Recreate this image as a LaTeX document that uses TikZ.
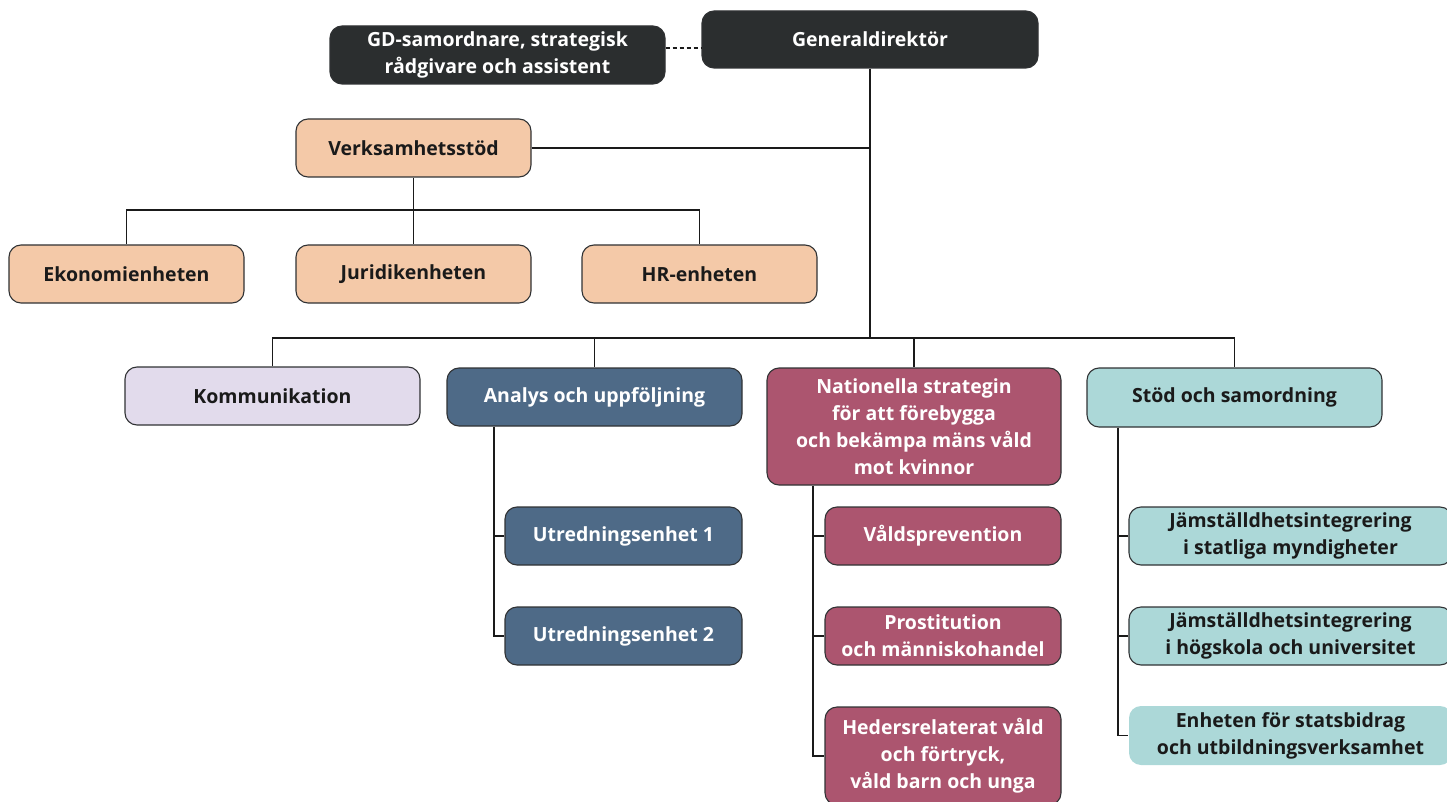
\documentclass[tikz,border=0pt]{standalone}
\usepackage{fontspec}
\setmainfont{Open Sans}[Ligatures=NoCommon]
\definecolor{dk}{HTML}{2B2E2F}
\definecolor{peach}{HTML}{F4C9A8}
\definecolor{lav}{HTML}{E2DBEC}
\definecolor{slate}{HTML}{4E6A87}
\definecolor{rose}{HTML}{AC556F}
\definecolor{teal}{HTML}{ACD8D8}
\definecolor{ink}{HTML}{1A1A1A}
\definecolor{edge}{HTML}{303234}
\newcommand\bx[7]{\node[#6, minimum width={#4-#2}, minimum height={#5-#3}] (#1) at ({(#2+#4)/2},{(#3+#5)/2}) {#7};}
\begin{document}
\begin{tikzpicture}[x=1pt,y=-1pt,
  box/.style={draw=edge, line width=1.1pt, rounded corners=12pt, inner sep=0pt, align=center,
    font=\fontsize{19.5}{27}\selectfont\bfseries},
  darkbox/.style={box, fill=dk, text=white},
  peachbox/.style={box, fill=peach, text=ink},
  lavbox/.style={box, fill=lav, text=ink},
  slatebox/.style={box, fill=slate, text=white},
  rosebox/.style={box, fill=rose, text=white},
  tealbox/.style={box, fill=teal, text=ink},
  tealplain/.style={tealbox, draw=none},
  conn/.style={draw=ink, line width=1.3pt}]
\useasboundingbox (0,0) rectangle (1447,802);
\begin{scope}
\clip (0,0) rectangle (1447,802);
\bx{gds}{330}{26}{665}{84}{darkbox}{GD-samordnare, strategisk\\rådgivare och assistent}
\bx{gd}{702}{11}{1038}{68}{darkbox}{Generaldirektör}
\bx{vs}{296}{119}{531}{177}{peachbox}{Verksamhetsstöd}
\bx{eko}{9}{245}{244}{303}{peachbox}{Ekonomienheten}
\bx{jur}{296}{245}{531}{303}{peachbox}{Juridikenheten}
\bx{hr}{582}{245}{817}{303}{peachbox}{HR-enheten}
\bx{komm}{125}{367}{420}{425}{lavbox}{Kommunikation}
\bx{ana}{447}{368}{742}{426}{slatebox}{Analys och uppföljning}
\bx{nat}{767}{368}{1061}{485}{rosebox}{Nationella strategin\\för att förebygga\\och bekämpa mäns våld\\mot kvinnor}
\bx{stod}{1087}{368}{1382}{427}{tealbox}{Stöd och samordning}
\bx{u1}{505}{507}{742}{565}{slatebox}{Utredningsenhet 1}
\bx{u2}{505}{607}{742}{665}{slatebox}{Utredningsenhet 2}
\bx{vp}{825}{507}{1061}{565}{rosebox}{Våldsprevention}
\bx{pr}{825}{607}{1061}{665}{rosebox}{Prostitution\\och människohandel}
\bx{hed}{825}{707}{1061}{805}{rosebox}{Hedersrelaterat våld\\och förtryck,\\våld barn och unga}
\bx{j1}{1129}{507}{1452}{565}{tealbox}{Jämställdhetsintegrering\\i statliga myndigheter}
\bx{j2}{1129}{607}{1452}{665}{tealbox}{Jämställdhetsintegrering\\i högskola och universitet}
\bx{enh}{1129}{706}{1452}{765}{tealplain}{Enheten för statsbidrag\\och utbildningsverksamhet}
\end{scope}
\coordinate (c48) at (0,48);
\coordinate (hub) at (870,338);
\coordinate (vsbar) at (0,210);
\coordinate (xa) at (494,0);
\coordinate (xn) at (813,0);
\coordinate (xs) at (1118,0);
% top
\draw[conn, dashed, dash pattern=on 4pt off 3pt, line width=1.1pt] (gds.east |- c48) -- (gd.west |- c48);
\draw[conn] (gd.south) -- (hub);
\draw[conn] (vs.east) -- (vs.east -| hub);
% Verksamhetsstöd children
\draw[conn] (vs.south) -- (vs.south |- vsbar);
\draw[conn] (eko.north) -- (eko.north |- vsbar) -- (hr.north |- vsbar) -- (hr.north);
\draw[conn] (jur.north) -- (jur.north |- vsbar);
% main row
\draw[conn] (komm.north) -- (komm.north |- hub) -- (stod.north |- hub) -- (stod.north);
\draw[conn] (ana.north) -- (ana.north |- hub);
\draw[conn] (nat.north) -- (nat.north |- hub);
% Analys children
\draw[conn] (ana.south -| xa) |- (u2.west);
\draw[conn] (u1.west) -- (u1.west -| xa);
% Nationella children
\draw[conn] (nat.south -| xn) |- (hed.west);
\draw[conn] (vp.west) -- (vp.west -| xn);
\draw[conn] (pr.west) -- (pr.west -| xn);
% Stöd children
\draw[conn] (stod.south -| xs) |- (enh.west);
\draw[conn] (j1.west) -- (j1.west -| xs);
\draw[conn] (j2.west) -- (j2.west -| xs);
\end{tikzpicture}
\end{document}
